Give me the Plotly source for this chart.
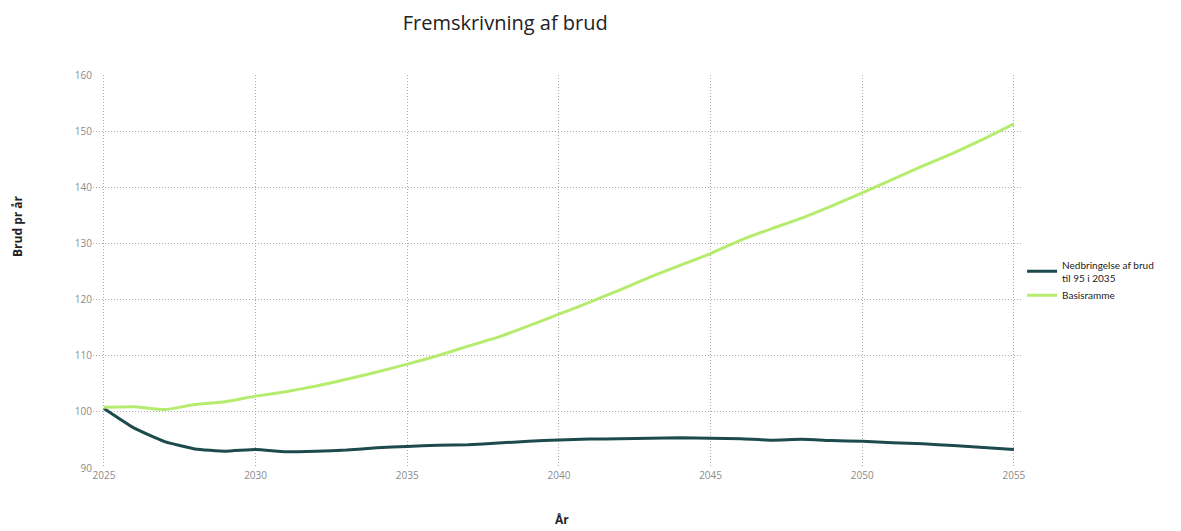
import plotly.graph_objects as go

years = list(range(2025, 2056))
nedbringelse = [100.6, 97.1, 94.7, 93.4, 93.0, 93.3, 92.9, 93.0, 93.2, 93.6,
                93.85, 94.05, 94.15, 94.45, 94.75, 95.0, 95.15, 95.2, 95.3, 95.4,
                95.3, 95.2, 94.95, 95.1, 94.9, 94.75, 94.5, 94.3, 94.0, 93.65, 93.3]
basisramme = [100.8, 100.9, 100.4, 101.3, 101.8, 102.8, 103.6, 104.6, 105.8, 107.1,
              108.5, 110.0, 111.7, 113.3, 115.3, 117.4, 119.5, 121.7, 124.0, 126.1,
              128.2, 130.6, 132.6, 134.5, 136.7, 139.0, 141.4, 143.8, 146.1, 148.6, 151.3]
x_ticks = [2025, 2030, 2035, 2040, 2045, 2050, 2055]
y_ticks = [90, 100, 110, 120, 130, 140, 150, 160]

fig = go.Figure()
fig.add_trace(go.Scatter(x=years, y=nedbringelse, mode="lines",
                         name="Nedbringelse af brud<br>til 95 i 2035",
                         line=dict(color="#1d4a4c", width=3, shape="spline", smoothing=0.4)))
fig.add_trace(go.Scatter(x=years, y=basisramme, mode="lines", name="Basisramme",
                         line=dict(color="#b6ec6e", width=3, shape="spline", smoothing=0.4)))

fig.update_layout(
    width=1181, height=531,
    paper_bgcolor="white", plot_bgcolor="white",
    margin=dict(l=85, r=166, t=67, b=71),
    font=dict(family="Open Sans", color="#333"),
    title=dict(text="Fremskrivning af brud", x=0.421, xanchor="center", y=0.972, yanchor="middle",
               font=dict(size=20, color="#222", family="Open Sans")),
    showlegend=True,
    legend=dict(x=0.999, xanchor="left", y=0.55, yanchor="top",
                font=dict(size=10, color="#222", family="Lato"), itemwidth=30,
                bgcolor="rgba(0,0,0,0)", tracegroupgap=2),
)
fig.update_xaxes(range=[2024.64, 2055.3], tickvals=x_ticks, ticktext=[str(v) for v in x_ticks],
                 showgrid=True, gridcolor="#ababab", griddash="1px,2px", gridwidth=1.3,
                 zeroline=False, showline=False, ticks="",
                 tickfont=dict(size=10, color="#8a8a8a"))
fig.update_yaxes(range=[90, 160], tickvals=y_ticks, showgrid=True, gridcolor="#ababab",
                 griddash="1px,2px", gridwidth=1.3, zeroline=False, showline=False, ticks="",
                 tickfont=dict(size=10, color="#8a8a8a"))

fig.add_annotation(text="<b>Brud pr år</b>", xref="paper", yref="paper",
                   x=-0.0806, y=0.616, xanchor="center", yanchor="middle",
                   textangle=-90, showarrow=False, font=dict(size=12, color="#222"))
fig.add_annotation(text="<b>År</b>", xref="paper", yref="paper",
                   x=0.504, y=-0.13, xanchor="center", yanchor="middle",
                   showarrow=False, font=dict(size=12, color="#222"))

fig.write_html("out.html")
